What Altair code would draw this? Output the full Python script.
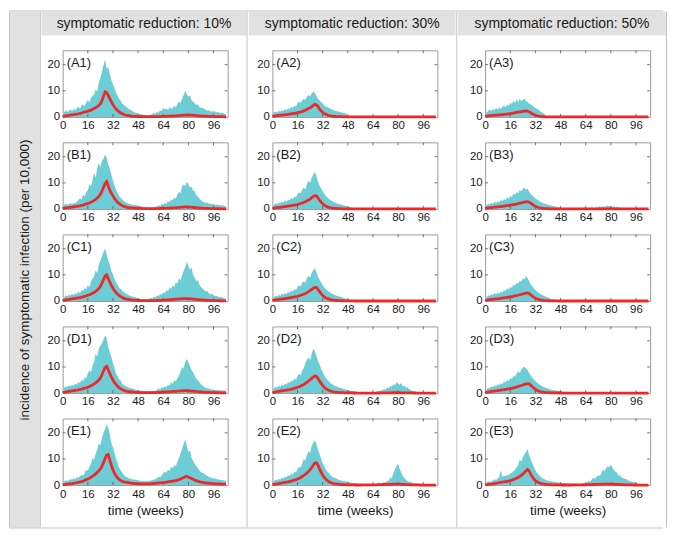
import altair as alt
import pandas as pd

weeks = list(range(105))

col_titles = ["symptomatic reduction: 10%", "symptomatic reduction: 30%", "symptomatic reduction: 50%"]
row_letters = ["A", "B", "C", "D", "E"]
x_ticks = [0, 16, 32, 48, 64, 80, 96]
y_ticks = [0, 10, 20]
y_title = "incidence of symptomatic infection (per 10,000)"
x_title = "time (weeks)"

# ---------------- column 1 (10%) ----------------
env_A1 = [0, 1.8, 2.6, 1.9, 2.4, 2.9, 2.2, 3.0, 2.6, 3.4,
          3.9, 3.1, 4.4, 4.9, 4.0, 5.6, 6.4, 5.5, 7.2, 8.0,
          8.6, 10.5, 9.6, 13.0, 15.0, 17.2, 20.0, 22.0, 18.5, 19.0,
          16.5, 14.0, 12.5, 11.0, 9.2, 8.0, 6.8, 6.2, 5.0, 4.6,
          4.0, 3.6, 3.0, 2.8, 2.4, 2.0, 1.7, 1.5, 1.3, 1.1,
          1.0, 0.9, 0.7, 0.5, 0.6, 0.4, 0.8, 1.0, 1.5, 1.2,
          2.0, 1.6, 2.6, 2.2, 3.6, 2.8, 3.2, 2.6, 3.8, 3.0,
          3.4, 4.2, 3.6, 5.0, 5.9, 5.2, 7.0, 8.4, 10.0, 8.6,
          7.8, 8.2, 6.4, 5.8, 5.3, 4.6, 4.9, 3.8, 3.4, 3.6,
          2.9, 2.8, 2.4, 2.6, 2.2, 2.0, 2.3, 2.1, 1.7, 1.9,
          1.5, 1.6, 1.5, 1.2, 1.0]
mean_A1 = [0.1, 0.3, 0.4, 0.5, 0.6, 0.7, 0.8, 0.9, 1.0, 1.1,
           1.2, 1.4, 1.5, 1.7, 1.9, 2.0, 2.2, 2.4, 2.6, 2.9,
           3.2, 3.5, 3.9, 4.4, 5.0, 6.2, 8.0, 9.6, 9.3, 8.2,
           7.0, 5.8, 4.7, 3.8, 3.0, 2.4, 1.9, 1.5, 1.2, 0.9,
           0.7, 0.6, 0.5, 0.4, 0.3, 0.25, 0.2, 0.2, 0.15, 0.1,
           0.1, 0.1, 0.1, 0.1, 0.1, 0.1, 0.1, 0.1, 0.1, 0.1,
           0.12, 0.13, 0.15, 0.17, 0.2, 0.22, 0.25, 0.27, 0.3, 0.32,
           0.35, 0.37, 0.4, 0.45, 0.5, 0.55, 0.6, 0.65, 0.7, 0.75,
           0.75, 0.7, 0.65, 0.6, 0.55, 0.5, 0.45, 0.4, 0.35, 0.32,
           0.3, 0.27, 0.25, 0.22, 0.2, 0.17, 0.15, 0.13, 0.12, 0.11,
           0.1, 0.09, 0.08, 0.06, 0.05]

env_B1 = [0.8, 1.5, 2.0, 1.6, 1.9, 2.3, 1.8, 2.4, 2.1, 2.9,
          3.3, 4.1, 3.6, 5.5, 4.8, 6.5, 7.2, 9.4, 8.6, 11.0,
          13.8, 12.0, 15.5, 17.7, 15.9, 18.5, 19.2, 20.9, 19.6, 17.0,
          15.5, 13.2, 10.8, 9.0, 7.4, 6.1, 5.0, 4.2, 3.6, 3.0,
          2.6, 2.3, 2.0, 1.8, 1.6, 1.5, 1.4, 1.4, 1.2, 1.1,
          1.0, 0.9, 0.8, 0.6, 0.5, 0.5, 0.4, 0.6, 0.5, 0.7,
          1.0, 1.4, 1.1, 1.9, 1.6, 2.3, 2.0, 3.0, 2.6, 3.6,
          3.2, 4.4, 3.9, 5.5, 6.6, 6.0, 8.6, 9.4, 8.8, 10.4,
          9.6, 8.2, 8.5, 7.0, 6.9, 5.2, 4.9, 4.0, 3.3, 2.9,
          2.7, 2.3, 2.5, 2.0, 2.1, 1.8, 1.9, 1.6, 1.7, 1.4,
          1.5, 1.2, 1.4, 1.1, 1.0]
mean_B1 = [0.2, 0.3, 0.4, 0.5, 0.5, 0.6, 0.7, 0.8, 0.9, 1.0,
           1.1, 1.2, 1.4, 1.5, 1.7, 1.9, 2.1, 2.3, 2.6, 2.9,
           3.3, 3.7, 4.2, 4.8, 5.6, 6.8, 8.3, 9.8, 10.5, 8.8,
           7.2, 6.0, 5.0, 4.0, 3.2, 2.5, 2.0, 1.6, 1.2, 1.0,
           0.8, 0.65, 0.55, 0.45, 0.4, 0.35, 0.3, 0.25, 0.2, 0.2,
           0.15, 0.15, 0.12, 0.1, 0.1, 0.1, 0.1, 0.1, 0.1, 0.12,
           0.14, 0.16, 0.18, 0.2, 0.22, 0.25, 0.28, 0.31, 0.34, 0.37,
           0.4, 0.44, 0.48, 0.52, 0.57, 0.62, 0.68, 0.74, 0.78, 0.8,
           0.78, 0.74, 0.68, 0.62, 0.56, 0.5, 0.44, 0.38, 0.33, 0.29,
           0.26, 0.23, 0.2, 0.18, 0.16, 0.14, 0.12, 0.11, 0.1, 0.09,
           0.08, 0.07, 0.06, 0.05, 0.05]

env_C1 = [0.6, 1.4, 2.2, 1.7, 2.5, 2.0, 2.8, 2.3, 3.1, 2.7,
          3.6, 3.0, 4.2, 3.8, 5.0, 4.4, 6.0, 5.4, 7.4, 8.5,
          9.5, 11.8, 10.6, 14.0, 15.5, 17.0, 18.8, 20.2, 17.8, 15.5,
          14.0, 11.5, 10.2, 8.4, 7.0, 6.2, 5.0, 4.6, 3.8, 3.4,
          2.9, 2.6, 2.2, 2.0, 1.7, 1.6, 1.4, 1.2, 1.1, 0.9,
          0.8, 0.7, 0.6, 0.8, 0.6, 0.9, 1.2, 1.0, 1.6, 1.3,
          2.2, 1.8, 2.8, 2.4, 3.4, 3.0, 4.2, 3.6, 5.2, 4.6,
          6.0, 5.4, 7.2, 6.6, 8.6, 8.0, 10.0, 11.5, 13.0, 15.0,
          13.5, 12.0, 12.8, 10.0, 9.0, 7.6, 8.0, 6.2, 5.4, 4.8,
          4.2, 3.6, 3.8, 3.0, 2.6, 2.8, 2.2, 1.9, 2.0, 1.6,
          1.4, 1.5, 1.2, 1.0, 0.9]
mean_C1 = [0.2, 0.3, 0.4, 0.5, 0.6, 0.7, 0.8, 0.9, 1.0, 1.1,
           1.2, 1.3, 1.5, 1.6, 1.8, 2.0, 2.2, 2.4, 2.7, 3.0,
           3.3, 3.7, 4.2, 4.8, 5.6, 6.8, 8.2, 9.6, 10.0, 8.6,
           7.2, 6.0, 4.9, 4.0, 3.2, 2.6, 2.1, 1.7, 1.3, 1.0,
           0.8, 0.7, 0.6, 0.5, 0.4, 0.35, 0.3, 0.25, 0.2, 0.2,
           0.15, 0.15, 0.12, 0.12, 0.12, 0.12, 0.13, 0.14, 0.15, 0.17,
           0.2, 0.22, 0.25, 0.28, 0.31, 0.35, 0.39, 0.43, 0.48, 0.53,
           0.58, 0.63, 0.68, 0.73, 0.78, 0.82, 0.86, 0.9, 0.92, 0.93,
           0.92, 0.88, 0.82, 0.76, 0.7, 0.63, 0.56, 0.5, 0.44, 0.39,
           0.34, 0.3, 0.26, 0.23, 0.2, 0.18, 0.16, 0.14, 0.12, 0.11,
           0.1, 0.09, 0.08, 0.07, 0.06]

env_D1 = [1.0, 2.0, 2.6, 2.2, 3.0, 2.5, 3.2, 2.8, 3.6, 3.2,
          4.2, 3.8, 5.0, 4.6, 6.0, 5.6, 7.6, 8.7, 8.0, 10.5,
          12.0, 15.0, 14.0, 17.0, 18.2, 19.0, 20.5, 22.0, 21.0, 17.5,
          15.6, 13.7, 11.4, 9.6, 7.3, 6.4, 5.2, 4.6, 3.5, 3.1,
          2.6, 2.4, 2.0, 1.9, 1.7, 1.6, 1.4, 1.2, 1.1, 1.0,
          0.9, 0.8, 0.7, 0.6, 0.6, 0.5, 0.7, 0.6, 0.8, 1.0,
          1.2, 1.8, 1.4, 2.3, 1.9, 2.6, 2.2, 3.2, 2.8, 4.0,
          3.6, 4.8, 4.4, 5.6, 6.8, 8.2, 10.0, 9.4, 12.0, 13.0,
          11.8, 10.4, 8.7, 8.0, 6.6, 5.5, 4.8, 4.2, 3.4, 2.8,
          2.4, 2.0, 1.8, 1.6, 1.5, 1.4, 1.3, 1.2, 1.2, 1.1,
          1.2, 1.0, 1.1, 0.9, 1.0]
mean_D1 = [0.2, 0.3, 0.4, 0.5, 0.6, 0.7, 0.8, 0.9, 1.0, 1.1,
           1.2, 1.4, 1.5, 1.7, 1.9, 2.0, 2.2, 2.5, 2.8, 3.1,
           3.5, 3.9, 4.4, 5.0, 5.8, 7.0, 8.5, 9.8, 10.2, 8.9,
           7.5, 6.2, 5.0, 4.0, 3.2, 2.6, 2.0, 1.6, 1.3, 1.0,
           0.8, 0.65, 0.55, 0.45, 0.4, 0.35, 0.3, 0.25, 0.22, 0.2,
           0.18, 0.16, 0.15, 0.14, 0.14, 0.14, 0.15, 0.16, 0.18, 0.2,
           0.22, 0.24, 0.27, 0.3, 0.33, 0.37, 0.41, 0.45, 0.5, 0.55,
           0.6, 0.64, 0.68, 0.72, 0.76, 0.8, 0.84, 0.88, 0.9, 0.9,
           0.88, 0.84, 0.78, 0.72, 0.66, 0.6, 0.53, 0.47, 0.41, 0.36,
           0.32, 0.28, 0.25, 0.22, 0.19, 0.17, 0.15, 0.13, 0.12, 0.11,
           0.1, 0.09, 0.08, 0.07, 0.06]

env_E1 = [0.8, 1.5, 1.9, 1.6, 1.9, 2.2, 2.0, 2.6, 2.3, 3.0,
          2.8, 3.4, 3.9, 3.6, 4.6, 6.0, 5.4, 7.0, 8.2, 10.4,
          9.6, 12.0, 13.5, 16.0, 15.2, 18.0, 20.0, 21.5, 23.0, 22.0,
          19.5, 16.0, 14.5, 12.3, 10.0, 8.4, 6.5, 5.6, 4.6, 3.9,
          3.3, 3.0, 2.6, 2.4, 2.2, 2.1, 2.0, 2.0, 1.8, 1.7,
          1.6, 1.5, 1.6, 1.5, 1.7, 1.6, 1.8, 1.9, 2.0, 2.3,
          2.6, 3.2, 2.9, 3.8, 4.4, 5.1, 4.6, 6.0, 5.4, 7.0,
          6.4, 7.6, 7.2, 8.8, 10.5, 12.0, 14.0, 15.8, 17.5, 15.0,
          12.7, 13.2, 10.5, 9.2, 8.2, 7.2, 6.4, 5.6, 5.0, 4.6,
          4.4, 4.0, 3.6, 3.2, 2.9, 2.7, 2.5, 2.5, 2.3, 2.1,
          2.0, 1.9, 1.9, 1.8, 1.7]
mean_E1 = [0.1, 0.2, 0.3, 0.4, 0.5, 0.5, 0.6, 0.7, 0.8, 0.9,
           1.0, 1.2, 1.3, 1.5, 1.8, 2.1, 2.3, 2.6, 3.0, 3.4,
           3.8, 4.3, 4.9, 5.5, 6.2, 7.2, 8.6, 10.2, 11.5, 11.7,
           9.6, 7.6, 5.8, 4.5, 3.5, 2.7, 2.1, 1.7, 1.4, 1.2,
           1.1, 1.0, 0.9, 0.8, 0.7, 0.65, 0.6, 0.55, 0.5, 0.5,
           0.45, 0.45, 0.45, 0.45, 0.5, 0.5, 0.55, 0.6, 0.65, 0.7,
           0.75, 0.8, 0.85, 0.9, 0.95, 1.0, 1.1, 1.2, 1.3, 1.4,
           1.5, 1.6, 1.7, 1.9, 2.1, 2.3, 2.6, 2.9, 3.2, 3.4,
           3.0, 2.8, 2.5, 2.2, 1.9, 1.7, 1.5, 1.3, 1.1, 1.0,
           0.9, 0.8, 0.75, 0.7, 0.65, 0.6, 0.55, 0.5, 0.5, 0.45,
           0.45, 0.4, 0.4, 0.35, 0.35]

# ---------------- column 2 (30%) ----------------
env_A2 = [0.5, 1.8, 2.1, 1.7, 2.4, 2.0, 2.6, 2.3, 3.0, 2.6,
          3.4, 3.0, 3.8, 3.5, 4.3, 4.0, 5.2, 5.9, 5.4, 6.4,
          7.0, 6.5, 7.8, 8.4, 7.9, 9.0, 9.6, 9.3, 8.0, 7.0,
          6.4, 5.6, 5.2, 4.4, 4.0, 3.8, 3.4, 3.1, 2.8, 2.6,
          2.3, 2.2, 2.1, 1.9, 1.7, 1.6, 1.5, 1.2, 0, 0,
          0, 0, 0, 0, 0, 0, 0, 0, 0, 0,
          0, 0, 0, 0, 0, 0, 0, 0, 0, 0,
          0, 0, 0, 0, 0, 0, 0, 0, 0, 0,
          0, 0, 0, 0, 0, 0, 0, 0, 0, 0,
          0, 0, 0, 0, 0, 0, 0, 0, 0, 0,
          0, 0, 0, 0, 0]
mean_A2 = [0.1, 0.3, 0.4, 0.5, 0.6, 0.6, 0.7, 0.8, 0.8, 0.9,
           1.0, 1.1, 1.2, 1.3, 1.4, 1.5, 1.6, 1.7, 1.9, 2.1,
           2.3, 2.6, 2.9, 3.2, 3.5, 3.9, 4.4, 4.8, 4.6, 4.0,
           3.0, 2.3, 1.7, 1.3, 1.0, 0.7, 0.5, 0.4, 0.3, 0.25,
           0.2, 0.15, 0.12, 0.1, 0.08, 0.06, 0.05, 0.03, 0.02, 0.01,
           0, 0, 0, 0, 0, 0, 0, 0, 0, 0,
           0, 0, 0, 0, 0, 0, 0, 0, 0, 0,
           0, 0, 0, 0, 0, 0, 0, 0, 0, 0,
           0, 0, 0, 0, 0, 0, 0, 0, 0, 0,
           0, 0, 0, 0, 0, 0, 0, 0, 0, 0,
           0, 0, 0, 0, 0]

env_B2 = [0.5, 1.6, 2.2, 1.8, 2.6, 2.1, 2.9, 2.5, 3.2, 2.8,
          3.6, 3.2, 4.2, 3.8, 4.8, 4.4, 5.6, 6.4, 5.8, 7.4,
          8.2, 7.5, 9.6, 10.8, 9.9, 12.0, 13.2, 14.2, 12.6, 10.5,
          9.0, 7.8, 6.8, 5.8, 5.0, 4.4, 3.8, 3.4, 3.0, 2.7,
          2.4, 2.2, 2.0, 1.8, 1.6, 1.4, 1.3, 1.1, 1.0, 0.8,
          0.7, 0.5, 0.4, 0, 0, 0.3, 0, 0, 0, 0,
          0, 0, 0, 0, 0, 0, 0, 0, 0, 0,
          0, 0, 0, 0, 0, 0, 0, 0, 0, 0,
          0, 0, 0, 0, 0, 0, 0, 0, 0, 0,
          0, 0, 0, 0, 0, 0, 0, 0, 0, 0,
          0, 0, 0, 0, 0]
mean_B2 = [0.1, 0.3, 0.4, 0.5, 0.6, 0.6, 0.7, 0.8, 0.9, 1.0,
           1.1, 1.2, 1.3, 1.4, 1.5, 1.6, 1.7, 1.9, 2.1, 2.3,
           2.5, 2.8, 3.1, 3.4, 3.8, 4.3, 4.8, 5.1, 5.0, 4.3,
           3.4, 2.6, 2.0, 1.5, 1.1, 0.8, 0.6, 0.45, 0.35, 0.28,
           0.22, 0.18, 0.14, 0.11, 0.09, 0.07, 0.05, 0.04, 0.03, 0.02,
           0.02, 0.01, 0.01, 0, 0, 0, 0, 0, 0, 0,
           0, 0, 0, 0, 0, 0, 0, 0, 0, 0,
           0, 0, 0, 0, 0, 0, 0, 0, 0, 0,
           0, 0, 0, 0, 0, 0, 0, 0, 0, 0,
           0, 0, 0, 0, 0, 0, 0, 0, 0, 0,
           0, 0, 0, 0, 0]

env_C2 = [0.4, 1.5, 2.0, 1.7, 2.4, 2.0, 2.8, 2.4, 3.1, 2.7,
          3.5, 3.1, 4.0, 3.6, 4.6, 4.2, 5.4, 6.0, 5.6, 7.0,
          7.6, 7.0, 8.8, 9.6, 9.0, 10.8, 11.8, 12.6, 11.0, 9.4,
          8.2, 7.0, 6.0, 5.2, 4.6, 4.0, 3.5, 3.1, 2.8, 2.5,
          2.2, 2.0, 1.8, 1.6, 1.4, 1.2, 1.1, 0.9, 0.7, 0.5,
          0.4, 0, 0, 0, 0, 0, 0, 0, 0, 0,
          0, 0, 0, 0, 0, 0, 0, 0, 0, 0,
          0, 0, 0, 0, 0, 0, 0, 0, 0, 0,
          0, 0, 0, 0, 0, 0, 0, 0, 0, 0,
          0, 0, 0, 0, 0, 0, 0, 0, 0, 0,
          0, 0, 0, 0, 0]
mean_C2 = [0.1, 0.3, 0.4, 0.5, 0.6, 0.7, 0.7, 0.8, 0.9, 1.0,
           1.1, 1.2, 1.3, 1.4, 1.6, 1.7, 1.8, 2.0, 2.2, 2.4,
           2.6, 2.9, 3.2, 3.6, 4.0, 4.4, 4.9, 5.2, 5.2, 4.5,
           3.6, 2.8, 2.1, 1.6, 1.2, 0.9, 0.7, 0.5, 0.4, 0.3,
           0.24, 0.19, 0.15, 0.12, 0.1, 0.08, 0.06, 0.05, 0.04, 0.03,
           0.02, 0.01, 0, 0, 0, 0, 0, 0, 0, 0,
           0, 0, 0, 0, 0, 0, 0, 0, 0, 0,
           0, 0, 0, 0, 0, 0, 0, 0, 0, 0,
           0, 0, 0, 0, 0, 0, 0, 0, 0, 0,
           0, 0, 0, 0, 0, 0, 0, 0, 0, 0,
           0, 0, 0, 0, 0]

env_D2 = [0.6, 1.8, 2.4, 2.0, 2.8, 2.3, 3.2, 2.8, 3.6, 3.2,
          4.2, 3.8, 4.8, 4.4, 5.6, 5.0, 6.6, 7.4, 6.8, 8.6,
          9.6, 11.5, 12.8, 13.6, 12.6, 15.0, 17.0, 16.0, 14.2, 12.4,
          11.0, 9.2, 8.0, 6.8, 5.8, 5.0, 4.4, 3.8, 3.4, 3.0,
          2.7, 2.4, 2.2, 2.0, 1.8, 1.6, 1.5, 1.3, 1.2, 1.0,
          0.9, 0.8, 0.7, 0.5, 0.4, 0.3, 0, 0, 0, 0,
          0, 0, 0, 0, 0.3, 0, 0.5, 0.8, 0.6, 1.2,
          0.9, 1.6, 1.3, 2.2, 1.8, 2.8, 2.4, 3.4, 3.0, 4.2,
          3.6, 3.2, 3.8, 2.6, 2.9, 2.0, 2.3, 1.5, 1.2, 0.9,
          0.7, 0.5, 0.4, 0, 0, 0, 0, 0, 0, 0,
          0, 0, 0, 0, 0]
mean_D2 = [0.1, 0.3, 0.4, 0.5, 0.6, 0.7, 0.8, 0.9, 1.0, 1.1,
           1.2, 1.3, 1.5, 1.6, 1.8, 2.0, 2.2, 2.4, 2.7, 3.0,
           3.3, 3.7, 4.1, 4.6, 5.1, 5.6, 6.1, 6.5, 6.4, 5.6,
           4.6, 3.7, 2.9, 2.2, 1.7, 1.3, 1.0, 0.8, 0.6, 0.45,
           0.35, 0.28, 0.22, 0.18, 0.15, 0.12, 0.1, 0.08, 0.06, 0.05,
           0.04, 0.03, 0.02, 0.02, 0.01, 0.01, 0, 0, 0, 0,
           0, 0, 0, 0, 0, 0.01, 0.01, 0.02, 0.02, 0.03,
           0.04, 0.05, 0.06, 0.07, 0.08, 0.09, 0.1, 0.11, 0.12, 0.12,
           0.12, 0.11, 0.1, 0.09, 0.08, 0.07, 0.06, 0.05, 0.04, 0.03,
           0.02, 0.02, 0.01, 0.01, 0, 0, 0, 0, 0, 0,
           0, 0, 0, 0, 0]

env_E2 = [0.5, 1.6, 2.0, 1.8, 2.4, 2.1, 2.8, 2.5, 3.2, 3.0,
          3.8, 3.4, 4.4, 4.0, 5.2, 4.8, 6.2, 7.0, 6.6, 8.4,
          10.0, 9.4, 11.6, 13.0, 12.4, 15.0, 16.2, 17.2, 15.8, 13.6,
          11.8, 10.0, 8.4, 7.2, 6.0, 5.2, 4.4, 3.8, 3.3, 2.9,
          2.6, 2.4, 2.1, 1.9, 1.8, 1.6, 1.5, 1.4, 1.3, 1.1,
          1.0, 0.8, 0.7, 0.6, 0.5, 0.4, 0.3, 0, 0, 0,
          0, 0, 0, 0, 0, 0.3, 0, 0.5, 0.4, 0.8,
          0.6, 1.2, 0.9, 1.8, 1.5, 3.0, 2.4, 4.6, 6.0, 7.4,
          8.2, 6.2, 4.8, 3.4, 2.6, 2.0, 1.6, 1.2, 1.4, 0.9,
          0.7, 0.5, 0.6, 0.4, 0.3, 0.3, 0.2, 0, 0, 0,
          0, 0, 0, 0, 0]
mean_E2 = [0.1, 0.3, 0.4, 0.5, 0.6, 0.7, 0.8, 0.9, 1.0, 1.1,
           1.2, 1.4, 1.5, 1.7, 1.9, 2.1, 2.3, 2.6, 2.9, 3.3,
           3.7, 4.1, 4.6, 5.2, 5.9, 6.7, 7.6, 8.4, 8.5, 7.6,
           6.2, 4.9, 3.8, 2.9, 2.2, 1.7, 1.3, 1.0, 0.8, 0.6,
           0.5, 0.4, 0.33, 0.27, 0.22, 0.18, 0.15, 0.12, 0.1, 0.08,
           0.07, 0.06, 0.05, 0.04, 0.04, 0.04, 0.04, 0.05, 0.05, 0.06,
           0.06, 0.07, 0.08, 0.09, 0.1, 0.11, 0.12, 0.14, 0.16, 0.18,
           0.2, 0.22, 0.24, 0.26, 0.28, 0.3, 0.32, 0.34, 0.35, 0.36,
           0.35, 0.33, 0.3, 0.27, 0.24, 0.21, 0.18, 0.15, 0.12, 0.1,
           0.08, 0.07, 0.06, 0.05, 0.04, 0.03, 0.02, 0.02, 0.01, 0.01,
           0, 0, 0, 0, 0]

# ---------------- column 3 (50%) ----------------
env_A3 = [0.4, 1.6, 2.4, 2.8, 2.2, 3.0, 2.6, 3.4, 2.8, 3.6,
          3.0, 3.8, 4.4, 3.6, 4.8, 4.2, 5.6, 4.8, 6.2, 5.2,
          6.8, 5.6, 7.0, 6.0, 6.6, 7.1, 6.0, 5.8, 5.0, 4.8,
          4.6, 3.8, 3.4, 3.0, 2.8, 2.2, 1.8, 1.5, 0.8, 0,
          0, 0, 0, 0, 0, 0, 0, 0, 0, 0,
          0, 0, 0, 0, 0, 0, 0, 0, 0, 0,
          0, 0, 0, 0, 0, 0, 0, 0, 0, 0,
          0, 0, 0, 0, 0, 0, 0, 0, 0, 0,
          0, 0, 0, 0, 0, 0, 0, 0, 0, 0,
          0, 0, 0, 0, 0, 0, 0, 0, 0, 0,
          0, 0, 0, 0, 0]
mean_A3 = [0.1, 0.3, 0.4, 0.5, 0.5, 0.6, 0.6, 0.7, 0.7, 0.8,
           0.8, 0.9, 1.0, 1.0, 1.1, 1.2, 1.3, 1.4, 1.5, 1.6,
           1.7, 1.8, 1.9, 2.0, 2.1, 2.2, 2.3, 2.2, 2.0, 1.6,
           1.2, 0.9, 0.6, 0.45, 0.3, 0.2, 0.12, 0.08, 0.04, 0.02,
           0, 0, 0, 0, 0, 0, 0, 0, 0, 0,
           0, 0, 0, 0, 0, 0, 0, 0, 0, 0,
           0, 0, 0, 0, 0, 0, 0, 0, 0, 0,
           0, 0, 0, 0, 0, 0, 0, 0, 0, 0,
           0, 0, 0, 0, 0, 0, 0, 0, 0, 0,
           0, 0, 0, 0, 0, 0, 0, 0, 0, 0,
           0, 0, 0, 0, 0]

env_B3 = [0.4, 1.4, 2.0, 1.7, 2.4, 2.0, 2.8, 2.4, 3.0, 2.6,
          3.4, 3.0, 3.8, 3.4, 4.4, 4.0, 5.0, 4.6, 5.8, 5.4,
          6.4, 6.0, 7.2, 6.8, 7.6, 8.2, 7.4, 7.8, 6.6, 5.8,
          5.2, 4.6, 4.0, 3.6, 3.2, 2.8, 2.5, 2.2, 2.0, 1.8,
          1.6, 1.4, 1.3, 1.1, 1.0, 0.9, 0.8, 0.6, 0.5, 0.4,
          0.3, 0, 0.4, 0, 0, 0.5, 0, 0, 0.6, 0,
          0, 0.5, 0, 0.7, 0.4, 0, 0.6, 0, 0.8, 0.5,
          0, 0.9, 0.6, 1.0, 0.7, 1.2, 0.8, 1.1, 1.3, 0.9,
          1.2, 0.8, 1.0, 0.6, 0.9, 0.5, 0.7, 0.4, 0.6, 0,
          0.5, 0, 0.4, 0, 0, 0.3, 0, 0, 0, 0,
          0, 0, 0, 0, 0]
mean_B3 = [0.1, 0.3, 0.4, 0.5, 0.5, 0.6, 0.7, 0.7, 0.8, 0.9,
           0.9, 1.0, 1.1, 1.2, 1.3, 1.4, 1.5, 1.6, 1.7, 1.8,
           1.9, 2.0, 2.2, 2.3, 2.5, 2.6, 2.7, 2.8, 2.6, 2.2,
           1.8, 1.4, 1.0, 0.75, 0.55, 0.4, 0.3, 0.22, 0.16, 0.12,
           0.09, 0.07, 0.05, 0.04, 0.03, 0.02, 0.02, 0.01, 0.01, 0.01,
           0, 0, 0, 0, 0, 0, 0, 0, 0, 0,
           0, 0, 0, 0, 0, 0, 0, 0, 0, 0,
           0, 0, 0, 0, 0, 0, 0, 0, 0, 0,
           0, 0, 0, 0, 0, 0, 0, 0, 0, 0,
           0, 0, 0, 0, 0, 0, 0, 0, 0, 0,
           0, 0, 0, 0, 0]

env_C3 = [0.4, 1.5, 2.2, 1.8, 2.6, 2.2, 3.0, 2.6, 3.2, 2.9,
          3.6, 3.2, 4.2, 3.8, 4.8, 4.4, 5.4, 5.0, 6.2, 5.8,
          7.0, 6.6, 7.8, 7.4, 8.6, 8.2, 9.5, 8.8, 7.6, 6.4,
          5.6, 4.8, 4.2, 3.6, 3.2, 2.8, 2.4, 2.1, 1.8, 1.5,
          1.3, 1.1, 0.9, 0.7, 0.6, 0.4, 0.3, 0, 0, 0,
          0, 0, 0, 0, 0, 0, 0, 0, 0, 0,
          0, 0, 0, 0, 0, 0, 0, 0, 0, 0,
          0, 0, 0, 0, 0, 0, 0, 0, 0, 0,
          0, 0, 0, 0, 0, 0, 0, 0, 0, 0,
          0, 0, 0, 0, 0, 0, 0, 0, 0, 0,
          0, 0, 0, 0, 0]
mean_C3 = [0.1, 0.3, 0.4, 0.5, 0.6, 0.6, 0.7, 0.8, 0.8, 0.9,
           1.0, 1.1, 1.2, 1.3, 1.4, 1.5, 1.6, 1.7, 1.8, 2.0,
           2.1, 2.2, 2.4, 2.5, 2.7, 2.8, 3.0, 3.1, 2.9, 2.4,
           1.9, 1.5, 1.1, 0.8, 0.6, 0.45, 0.33, 0.25, 0.18, 0.13,
           0.1, 0.07, 0.05, 0.04, 0.03, 0.02, 0.01, 0, 0, 0,
           0, 0, 0, 0, 0, 0, 0, 0, 0, 0,
           0, 0, 0, 0, 0, 0, 0, 0, 0, 0,
           0, 0, 0, 0, 0, 0, 0, 0, 0, 0,
           0, 0, 0, 0, 0, 0, 0, 0, 0, 0,
           0, 0, 0, 0, 0, 0, 0, 0, 0, 0,
           0, 0, 0, 0, 0]

env_D3 = [0.4, 1.5, 2.0, 1.8, 2.6, 2.2, 3.0, 2.6, 3.4, 3.0,
          3.8, 3.4, 4.4, 4.0, 5.0, 4.6, 5.8, 5.4, 6.6, 6.2,
          7.4, 8.2, 7.8, 9.0, 9.6, 10.2, 9.4, 8.8, 7.8, 6.8,
          6.0, 5.2, 4.6, 4.0, 3.5, 3.1, 2.7, 2.4, 2.1, 1.9,
          1.7, 1.5, 1.4, 1.2, 1.1, 1.0, 0.9, 0.8, 0.7, 0.6,
          0.5, 0.4, 0.5, 0.3, 0.3, 0.2, 0, 0, 0, 0,
          0, 0, 0, 0, 0, 0, 0, 0, 0, 0,
          0, 0, 0, 0, 0, 0, 0, 0, 0, 0,
          0, 0, 0, 0, 0, 0, 0, 0, 0, 0,
          0, 0, 0, 0, 0, 0, 0, 0, 0, 0,
          0, 0, 0, 0, 0]
mean_D3 = [0.1, 0.3, 0.4, 0.5, 0.6, 0.7, 0.7, 0.8, 0.9, 1.0,
           1.1, 1.2, 1.3, 1.4, 1.5, 1.6, 1.7, 1.8, 2.0, 2.1,
           2.3, 2.5, 2.7, 2.9, 3.1, 3.3, 3.5, 3.6, 3.5, 3.0,
           2.4, 1.9, 1.4, 1.05, 0.8, 0.6, 0.45, 0.35, 0.26, 0.2,
           0.15, 0.12, 0.09, 0.07, 0.05, 0.04, 0.03, 0.02, 0.02, 0.01,
           0.01, 0.01, 0, 0, 0, 0, 0, 0, 0, 0,
           0, 0, 0, 0, 0, 0, 0, 0, 0, 0,
           0, 0, 0, 0, 0, 0, 0, 0, 0, 0,
           0, 0, 0, 0, 0, 0, 0, 0, 0, 0,
           0, 0, 0, 0, 0, 0, 0, 0, 0, 0,
           0, 0, 0, 0, 0]

env_E3 = [0.3, 1.0, 1.5, 1.3, 1.5, 1.8, 2.2, 1.9, 2.6, 3.0,
          5.8, 3.2, 3.6, 3.4, 4.0, 3.8, 4.4, 4.6, 5.4, 5.8,
          6.8, 7.6, 9.8, 9.0, 10.6, 11.8, 12.6, 13.8, 11.5, 9.8,
          8.5, 7.0, 5.8, 4.6, 4.1, 3.4, 2.8, 2.4, 2.1, 1.9,
          1.8, 1.6, 1.5, 1.4, 1.3, 1.2, 1.1, 1.0, 0.9, 0.8,
          0.8, 0.7, 0.6, 0.6, 0.5, 0.4, 0.6, 0.3, 0, 0.4,
          0.5, 0, 0.7, 0.9, 0.6, 1.2, 1.6, 1.3, 2.2, 2.8,
          2.4, 3.2, 3.8, 3.4, 4.6, 6.0, 5.2, 6.4, 7.2, 6.8,
          7.9, 6.6, 5.8, 5.0, 4.7, 3.6, 3.8, 2.8, 2.6, 2.4,
          2.2, 1.8, 1.6, 1.4, 1.2, 1.1, 0.8, 0.6, 0.5, 0.4,
          0.3, 0.3, 0.2, 0, 0]
mean_E3 = [0.1, 0.2, 0.3, 0.4, 0.4, 0.5, 0.6, 0.7, 0.8, 0.9,
           1.0, 1.1, 1.2, 1.3, 1.4, 1.5, 1.7, 1.9, 2.1, 2.3,
           2.6, 2.9, 3.3, 3.7, 4.2, 4.8, 5.4, 6.0, 5.4, 4.2,
           3.2, 2.4, 1.7, 1.3, 1.0, 0.75, 0.55, 0.42, 0.32, 0.25,
           0.2, 0.16, 0.13, 0.1, 0.08, 0.07, 0.06, 0.05, 0.05, 0.04,
           0.04, 0.04, 0.04, 0.04, 0.04, 0.04, 0.05, 0.05, 0.06, 0.07,
           0.08, 0.09, 0.1, 0.11, 0.12, 0.14, 0.16, 0.18, 0.2, 0.22,
           0.24, 0.26, 0.28, 0.3, 0.32, 0.34, 0.35, 0.36, 0.37, 0.37,
           0.36, 0.34, 0.32, 0.29, 0.26, 0.23, 0.2, 0.17, 0.14, 0.12,
           0.1, 0.08, 0.07, 0.06, 0.05, 0.04, 0.03, 0.02, 0.02, 0.01,
           0.01, 0.01, 0, 0, 0]

series = {
    "A1": (env_A1, mean_A1), "B1": (env_B1, mean_B1), "C1": (env_C1, mean_C1),
    "D1": (env_D1, mean_D1), "E1": (env_E1, mean_E1),
    "A2": (env_A2, mean_A2), "B2": (env_B2, mean_B2), "C2": (env_C2, mean_C2),
    "D2": (env_D2, mean_D2), "E2": (env_E2, mean_E2),
    "A3": (env_A3, mean_A3), "B3": (env_B3, mean_B3), "C3": (env_C3, mean_C3),
    "D3": (env_D3, mean_D3), "E3": (env_E3, mean_E3),
}
for k, (e, m) in series.items():
    if len(e) != 105 or len(m) != 105:
        raise ValueError(f"{k}: {len(e)} {len(m)}")

# ---------------- styling ----------------
FONT = "Liberation Sans"
CYAN = "#6dcdd7"
RED = "#ef2727"
GRAY = "#e1e1e1"
BORDER = "#c2c2c2"
FRAME = "#9a9a9a"
TICK = "#555555"
TXT = "#1a1a1a"

PW, PH = 166, 67
XS = alt.Scale(domain=[0, 105], nice=False, zero=False)
YS = alt.Scale(domain=[0, 25.5], nice=False)
COL_W = [206, 208, 209]
EXT = [21.2, 23.7, 27.2]
TOTAL_H = 519
NOSTROKE = dict(strokeWidth=0, strokeOpacity=0)


def panel(label, env, mean, ext, last):
    df = pd.DataFrame({"week": weeks, "env": env, "mean": mean})
    xkw = dict(values=x_ticks, ticks=False, domain=False, grid=False,
               labelFontSize=11.5, labelPadding=3, labelFlush=False, labelColor=TXT)
    if last:
        xkw.update(title=x_title, titleFontSize=13.5, titleFontWeight="normal",
                   titlePadding=4, titleColor=TXT)
    else:
        xkw.update(title=None)
    xaxis = alt.Axis(**xkw)
    yaxis = alt.Axis(values=y_ticks, ticks=False, domain=False, grid=False,
                     labelFontSize=11.5, labelPadding=3, title=None,
                     minExtent=ext, maxExtent=ext, labelColor=TXT)
    X = alt.X("week:Q", scale=XS, axis=xaxis)
    Y_env = alt.Y("env:Q", scale=YS, axis=yaxis)
    area = alt.Chart(df).mark_area(color=CYAN).encode(x=X, y=Y_env)
    line = alt.Chart(df).mark_line(color=RED, strokeWidth=2.8).encode(
        x=X, y=alt.Y("mean:Q", scale=YS, axis=yaxis))
    xt = pd.DataFrame({"week": x_ticks[1:]})
    yt = pd.DataFrame({"env": y_ticks[1:]})
    rule = dict(color=TICK, strokeWidth=0.8)
    top_t = alt.Chart(xt).mark_rule(**rule).encode(x=X, y=alt.value(0), y2=alt.value(3))
    bot_t = alt.Chart(xt).mark_rule(**rule).encode(x=X, y=alt.value(PH), y2=alt.value(PH - 3))
    left_t = alt.Chart(yt).mark_rule(**rule).encode(y=Y_env, x=alt.value(0), x2=alt.value(3))
    right_t = alt.Chart(yt).mark_rule(**rule).encode(y=Y_env, x=alt.value(PW), x2=alt.value(PW - 3))
    lab = alt.Chart(pd.DataFrame({"lab": [label]})).mark_text(
        align="left", baseline="middle", fontSize=13, color=TXT).encode(
        x=alt.value(4), y=alt.value(13), text="lab:N")
    return alt.layer(area, bot_t, left_t, line, top_t, right_t, lab).properties(
        width=PW, height=PH,
        view=alt.ViewBackground(fill="white", stroke=FRAME, strokeWidth=1))


def header(text, w, ext):
    # the band starts at the column's left edge, i.e. `ext` px left of the panels' plot area
    d = pd.DataFrame({"h": [text]})
    band = alt.Chart(d).mark_rect(color=GRAY).encode(
        x=alt.value(-ext), x2=alt.value(w - ext), y=alt.value(0), y2=alt.value(24))
    txt = alt.Chart(d).mark_text(fontSize=14, color=TXT, align="center", baseline="middle").encode(
        x=alt.value(w / 2 - ext), y=alt.value(12.7), text="h:N")
    return alt.layer(band, txt).properties(
        width=w - ext, height=24, view=alt.ViewBackground(**NOSTROKE))


def vsep():
    return alt.Chart(pd.DataFrame({"a": [0]})).mark_rect(color=BORDER).encode(
        x=alt.value(0), x2=alt.value(1), y=alt.value(0), y2=alt.value(TOTAL_H)).properties(
        width=1, height=TOTAL_H, view=alt.ViewBackground(**NOSTROKE))


def hsep(w):
    return alt.Chart(pd.DataFrame({"a": [0]})).mark_rect(color=BORDER).encode(
        x=alt.value(0), x2=alt.value(w), y=alt.value(0), y2=alt.value(1)).properties(
        width=w, height=1, view=alt.ViewBackground(**NOSTROKE))


strip = alt.Chart(pd.DataFrame({"t": [y_title]})).mark_text(
    fontSize=13.5, color=TXT, angle=270, align="center", baseline="middle").encode(
    x=alt.value(15), y=alt.value(270), text="t:N").properties(
    width=30, height=TOTAL_H, view=alt.ViewBackground(fill=GRAY, **NOSTROKE))

columns = []
for ci in range(3):
    panels = []
    for ri, letter in enumerate(row_letters):
        key = f"{letter}{ci + 1}"
        env, mean = series[key]
        panels.append(panel(f"({key})", env, mean, EXT[ci], ri == 4))
    body = alt.vconcat(*panels, spacing=25.6, bounds="flush")
    columns.append(alt.vconcat(header(col_titles[ci], COL_W[ci], EXT[ci]), body, spacing=14))

total_w = 1 + 30 + 1 + COL_W[0] + 1 + COL_W[1] + 1 + COL_W[2] + 1
main = alt.hconcat(vsep(), strip, vsep(), columns[0], vsep(), columns[1], vsep(),
                   columns[2], vsep(), spacing=0)
chart = alt.vconcat(hsep(total_w), main, hsep(total_w), spacing=0).properties(
    padding={"left": 1, "top": 1, "right": 0, "bottom": 0}
).configure(font=FONT).configure_axis(labelFont=FONT, titleFont=FONT).configure_text(font=FONT)

chart.save("out.html", embed_options={"renderer": "svg", "actions": False})
